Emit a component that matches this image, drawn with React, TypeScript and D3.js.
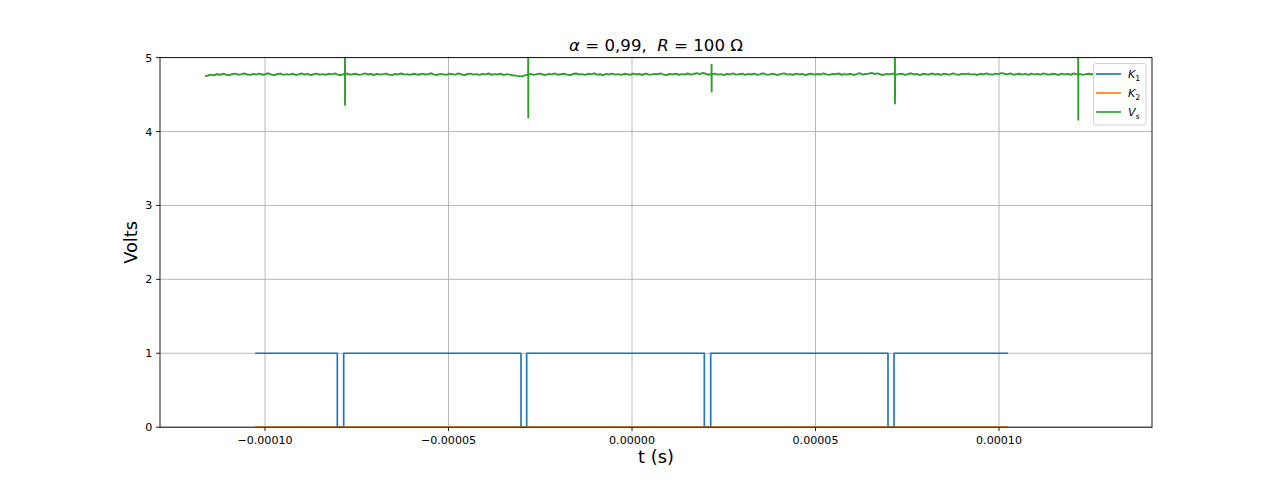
import React from 'react';
import * as d3 from 'd3';

// ---------- data ----------
const X_TICKS = [-0.0001, -0.00005, 0, 0.00005, 0.0001];
const X_TICK_LABELS = ['−0.00010', '−0.00005', '0.00000', '0.00005', '0.00010'];
const Y_TICKS = [0, 1, 2, 3, 4, 5];
const Y_TICK_LABELS = ['0', '1', '2', '3', '4', '5'];
const Y_LIMITS = [0, 5];

const K1_START = -1.027e-4;
const K1_END = 1.0245e-4;
const K1_HIGH = 1;
const K1_LOW = 0;
const K1_LOW_INTERVALS = [
  [-8.03e-5, -7.856e-5],
  [-3.025e-5, -2.87e-5],
  [1.97e-5, 2.144e-5],
  [6.975e-5, 7.139e-5],
];

const K2_START = -1.027e-4;
const K2_END = 1.0245e-4;
const K2_VALUE = 0;

const VS_START = -1.1633e-4;
const VS_END = 1.294e-4;
const VS_BASE = [
  4.750, 4.758, 4.770, 4.762, 4.775, 4.768, 4.781, 4.770, 4.764, 4.777, 4.783, 4.769, 4.776, 4.785, 4.771, 4.766, 4.779, 4.772, 4.784, 4.768,
  4.775, 4.788, 4.770, 4.763, 4.778, 4.784, 4.767, 4.776, 4.770, 4.782, 4.765, 4.774, 4.786, 4.771, 4.779, 4.764, 4.775, 4.783, 4.769, 4.777,
  4.768, 4.781, 4.773, 4.786, 4.770, 4.762, 4.777, 4.784, 4.769, 4.775, 4.781, 4.766, 4.773, 4.787, 4.772, 4.778, 4.765, 4.780, 4.771, 4.776,
  4.784, 4.769, 4.763, 4.778, 4.772, 4.785, 4.770, 4.777, 4.766, 4.781, 4.774, 4.768, 4.783, 4.771, 4.776, 4.788, 4.770, 4.765, 4.779, 4.773,
  4.767, 4.782, 4.775, 4.769, 4.786, 4.772, 4.764, 4.778, 4.783, 4.770, 4.776, 4.766, 4.780, 4.773, 4.785, 4.768, 4.777, 4.771, 4.782, 4.764,
  4.776, 4.769, 4.762, 4.756, 4.750, 4.746, 4.760, 4.770, 4.781, 4.766, 4.777, 4.784, 4.771, 4.765, 4.779, 4.773, 4.786, 4.768, 4.775, 4.782,
  4.770, 4.764, 4.778, 4.785, 4.771, 4.776, 4.767, 4.781, 4.773, 4.788, 4.769, 4.775, 4.763, 4.780, 4.772, 4.784, 4.770, 4.777, 4.766, 4.781,
  4.774, 4.768, 4.783, 4.771, 4.778, 4.765, 4.785, 4.772, 4.769, 4.780, 4.775, 4.787, 4.770, 4.764, 4.779, 4.773, 4.782, 4.768, 4.776, 4.771,
  4.785, 4.770, 4.778, 4.790, 4.776, 4.792, 4.781, 4.768, 4.774, 4.783, 4.769, 4.777, 4.764, 4.780, 4.772, 4.786, 4.770, 4.775, 4.782, 4.767,
  4.779, 4.771, 4.784, 4.766, 4.776, 4.788, 4.772, 4.769, 4.781, 4.774, 4.765, 4.779, 4.786, 4.770, 4.777, 4.768, 4.783, 4.773, 4.780, 4.764,
  4.775, 4.782, 4.769, 4.778, 4.771, 4.787, 4.773, 4.766, 4.780, 4.774, 4.785, 4.768, 4.777, 4.772, 4.781, 4.765, 4.776, 4.789, 4.771, 4.778,
  4.783, 4.792, 4.778, 4.786, 4.771, 4.765, 4.779, 4.773, 4.784, 4.769, 4.776, 4.782, 4.767, 4.775, 4.788, 4.772, 4.779, 4.764, 4.781, 4.774,
  4.769, 4.785, 4.772, 4.778, 4.766, 4.782, 4.775, 4.770, 4.787, 4.773, 4.768, 4.780, 4.776, 4.784, 4.770, 4.777, 4.765, 4.781, 4.772, 4.786,
  4.775, 4.769, 4.783, 4.777, 4.790, 4.781, 4.772, 4.786, 4.768, 4.776, 4.782, 4.770, 4.779, 4.765, 4.784, 4.773, 4.778, 4.769, 4.787, 4.774,
  4.770, 4.781, 4.776, 4.765, 4.783, 4.772, 4.779, 4.768, 4.785, 4.774, 4.780, 4.767, 4.777, 4.782, 4.771, 4.786, 4.775, 4.769, 4.780, 4.773,
];
// spikes: time, value just before, peak, trough, value just after
const VS_SPIKE_T = [-7.82e-5, -2.826e-5, 2.17e-5, 7.166e-5, 1.216e-4];
const VS_SPIKE_PRE = [4.775, 4.760, 4.780, 4.776, 4.778];
const VS_SPIKE_HI = [5.6, 5.6, 4.905, 5.6, 5.6];
const VS_SPIKE_LO = [4.36, 4.19, 4.54, 4.38, 4.16];
const VS_SPIKE_POST = [4.772, 4.770, 4.775, 4.773, 4.776];

const SERIES_NAMES = ['K', 'K', 'V'];
const SERIES_SUBS = ['1', '2', 's'];
const COLORS = ['#1f77b4', '#ff7f0e', '#2ca02c'];

// ---------- layout ----------
const W = 1280;
const H = 480;
const L = 160;
const R = 1152;
const T = 57.6;
const B = 427.2;
const FONT = 'DejaVu Sans, sans-serif';

type P = [number, number];

export default function App() {
  const dataMin = Math.min(VS_START, K1_START, K2_START);
  const dataMax = Math.max(VS_END, K1_END, K2_END);
  const span = dataMax - dataMin;
  const x = d3.scaleLinear().domain([dataMin - 0.05 * span, dataMax + 0.05 * span]).range([L, R]);
  const y = d3.scaleLinear().domain(Y_LIMITS).range([B, T]);
  const line = d3.line<P>().x((d) => x(d[0])).y((d) => y(d[1]));

  // K1 step series
  const k1: P[] = [[K1_START, K1_HIGH]];
  K1_LOW_INTERVALS.forEach(([a, b]) => {
    k1.push([a, K1_HIGH], [a, K1_LOW], [b, K1_LOW], [b, K1_HIGH]);
  });
  k1.push([K1_END, K1_HIGH]);

  const k2: P[] = [[K2_START, K2_VALUE], [K2_END, K2_VALUE]];

  // Vs series
  const dt = (VS_END - VS_START) / (VS_BASE.length - 1);
  const vs: P[] = VS_BASE.map((v, i) => [VS_START + i * dt, v] as P);
  VS_SPIKE_T.forEach((t, i) => {
    const e = 2e-8;
    vs.push([t - 2 * e, VS_SPIKE_PRE[i]], [t - e, VS_SPIKE_HI[i]], [t, VS_SPIKE_LO[i]], [t + e, VS_SPIKE_POST[i]]);
  });
  vs.sort((a, b) => a[0] - b[0]);

  const series = [k1, k2, vs];
  const tickLen = 3.9;
  const legendRows = [74, 93, 112];

  return (
    <svg width={W} height={H} style={{ position: 'absolute', left: 0, top: 0, background: '#fff' }} fontFamily={FONT}>
      <defs>
        <clipPath id="plotclip">
          <rect x={L} y={T} width={R - L} height={B - T} />
        </clipPath>
      </defs>
      <rect x={0} y={0} width={W} height={H} fill="#fff" />
      {/* grid */}
      <g stroke="#b0b0b0" strokeWidth={0.9}>
        {X_TICKS.map((t, i) => (
          <line key={'gx' + i} x1={x(t)} x2={x(t)} y1={T} y2={B} />
        ))}
        {Y_TICKS.map((t, i) => (
          <line key={'gy' + i} x1={L} x2={R} y1={y(t)} y2={y(t)} />
        ))}
      </g>
      {/* series */}
      <g clipPath="url(#plotclip)" fill="none" strokeLinejoin="round" strokeLinecap="butt">
        {series.map((s, i) => (
          <path key={'s' + i} d={line(s) || ''} stroke={COLORS[i]} strokeWidth={i === 2 ? 1.9 : 1.67} />
        ))}
      </g>
      {/* spines */}
      <rect x={L} y={T} width={R - L} height={B - T} fill="none" stroke="#000" strokeWidth={0.9} />
      {/* ticks */}
      <g fontSize={11.1} fill="#000">
        {X_TICKS.map((t, i) => (
          <g key={'xt' + i}>
            <line x1={x(t)} x2={x(t)} y1={B} y2={B + tickLen} stroke="#000" strokeWidth={0.9} />
            <text x={x(t)} y={B + tickLen + 3.9 + 8.6} textAnchor="middle">
              {X_TICK_LABELS[i]}
            </text>
          </g>
        ))}
        {Y_TICKS.map((t, i) => (
          <g key={'yt' + i}>
            <line x1={L - tickLen} x2={L} y1={y(t)} y2={y(t)} stroke="#000" strokeWidth={0.9} />
            <text x={L - tickLen - 3.9} y={y(t)} dy="0.36em" textAnchor="end">
              {Y_TICK_LABELS[i]}
            </text>
          </g>
        ))}
      </g>
      {/* axis labels */}
      <text x={(L + R) / 2} y={463} textAnchor="middle" fontSize={17.8} fill="#000">
        t (s)
      </text>
      <text transform={`translate(137, ${(T + B) / 2}) rotate(-90)`} textAnchor="middle" fontSize={17.8} fill="#000">
        Volts
      </text>
      {/* title */}
      <text x={(L + R) / 2} y={51} textAnchor="middle" fontSize={16.6} fill="#000">
        <tspan fontStyle="italic">α</tspan>
        <tspan>{'\u00a0=\u00a00,99,\u00a0\u00a0'}</tspan>
        <tspan fontStyle="italic">R</tspan>
        <tspan>{'\u00a0=\u00a0100\u00a0Ω'}</tspan>
      </text>
      {/* legend */}
      <g>
        <rect x={1093.5} y={63.5} width={52.5} height={61.5} rx={2.5} fill="#fff" fillOpacity={0.8} stroke="#cccccc" strokeWidth={0.9} />
        {SERIES_NAMES.map((n, i) => (
          <g key={'lg' + i}>
            <line x1={1096} x2={1121} y1={legendRows[i]} y2={legendRows[i]} stroke={COLORS[i]} strokeWidth={1.67} />
            <text x={1128} y={legendRows[i] + 4} fontSize={11.1} fill="#000">
              <tspan fontStyle="italic">{n}</tspan>
              <tspan fontSize={7.8} dy={2.5} fontStyle={SERIES_SUBS[i] === 's' ? 'italic' : 'normal'}>
                {SERIES_SUBS[i]}
              </tspan>
            </text>
          </g>
        ))}
      </g>
    </svg>
  );
}
